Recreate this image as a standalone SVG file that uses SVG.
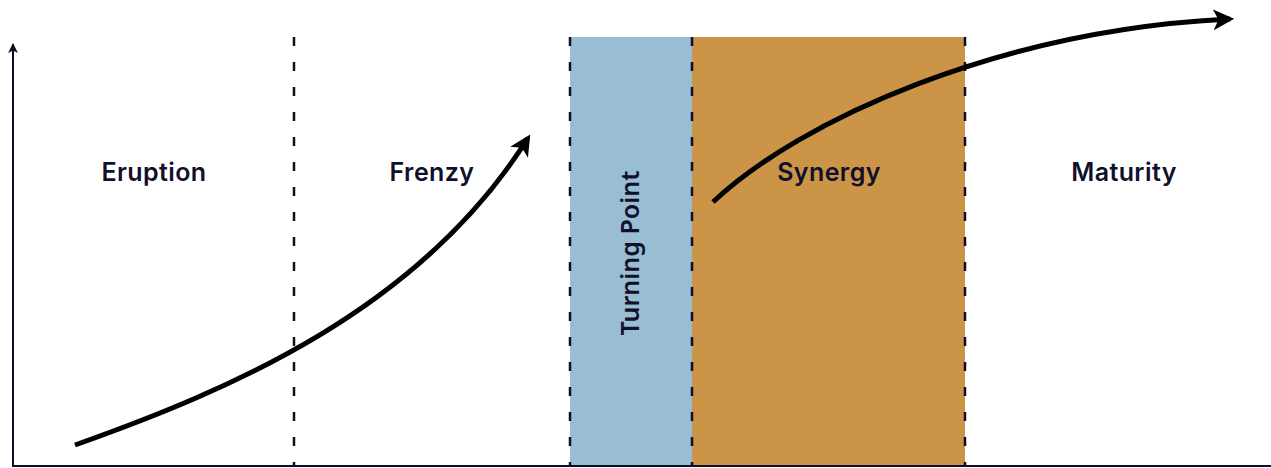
<svg xmlns="http://www.w3.org/2000/svg" width="1271" height="468" viewBox="0 0 1271 468">
  <style>
    .label { font-family: "Inter", "Noto Sans", "Liberation Sans", sans-serif; font-size: 25px; font-weight: 600; fill: #10102a; text-anchor: middle; letter-spacing: 0.4px; }
    .vlabel { font-family: "Noto Sans", "Liberation Sans", sans-serif; font-size: 25px; font-weight: 600; fill: #10102a; text-anchor: middle; }
    .divider { stroke: #0e0e28; stroke-width: 2.5; stroke-dasharray: 9 16; fill: none; }
    .axis { stroke: #0e0e28; stroke-width: 2; fill: none; }
    .curve { stroke: #000; stroke-width: 5; fill: none; stroke-linecap: butt; }
  </style>
  <defs>
    <marker id="head" viewBox="0 0 10 10" refX="8" refY="5" markerWidth="4.2" markerHeight="4.2" orient="auto" markerUnits="strokeWidth">
      <path d="M0,0 L10,5 L0,10 L2.5,5 Z" fill="#000"/>
    </marker>
    <marker id="axisHead" viewBox="0 0 10 10" refX="9" refY="5" markerWidth="5" markerHeight="5" orient="auto" markerUnits="strokeWidth">
      <path d="M0,0 L10,5 L0,10 L2.5,5 Z" fill="#0e0e28"/>
    </marker>
  </defs>

  <rect width="1271" height="468" fill="#fff"/>

  <!-- phase bands -->
  <g id="turning-point">
    <rect x="570" y="37" width="122" height="429" fill="#99bdd3"/>
    <text class="vlabel" transform="translate(639,253) rotate(-90)">Turning Point</text>
  </g>
  <g id="synergy">
    <rect x="692" y="37" width="273" height="429" fill="#cb9446"/>
    <text class="label" x="829" y="181">Synergy</text>
  </g>
  <g id="eruption">
    <text class="label" x="154" y="181">Eruption</text>
  </g>
  <g id="frenzy">
    <text class="label" x="432" y="181">Frenzy</text>
  </g>
  <g id="maturity">
    <text class="label" x="1124" y="181">Maturity</text>
  </g>

  <!-- axes and phase dividers -->
  <g id="axes">
    <line class="axis" x1="13" y1="466" x2="13" y2="44" marker-end="url(#axisHead)"/>
    <line class="axis" x1="12" y1="466" x2="1271" y2="466"/>
  </g>
  <g id="dividers">
    <line class="divider" x1="294" y1="37" x2="294" y2="466"/>
    <line class="divider" x1="570" y1="37" x2="570" y2="466"/>
    <line class="divider" x1="692" y1="37" x2="692" y2="466"/>
    <line class="divider" x1="965" y1="37" x2="965" y2="466"/>
  </g>

  <!-- growth curves -->
  <g id="connectors">
    <path class="curve" d="M75,445 C230,390 420,310 528,138" marker-end="url(#head)"/>
    <path class="curve" d="M713,202 C800,120 1000,30 1230,19" marker-end="url(#head)"/>
  </g>
</svg>
